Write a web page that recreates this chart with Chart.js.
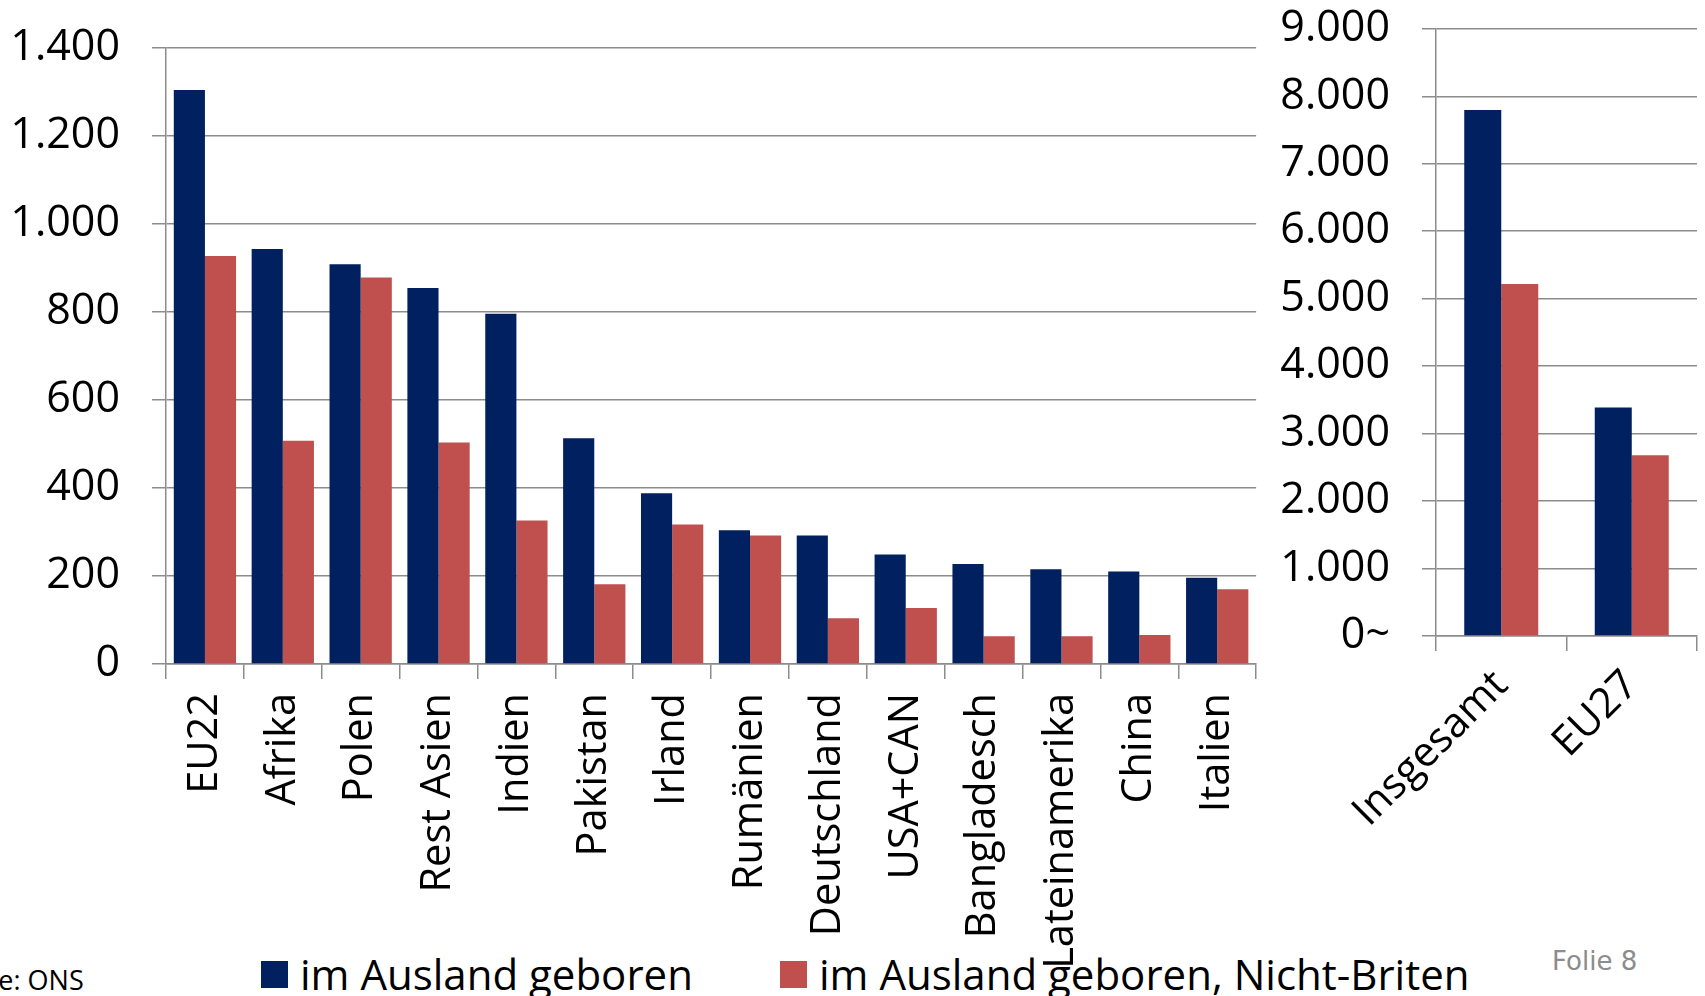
<!DOCTYPE html>
<html>
<head>
<meta charset="utf-8">
<script src="https://cdn.jsdelivr.net/npm/chart.js@4"></script>
<style>
  html, body { margin: 0; padding: 0; background: #fff; }
  body { width: 1705px; height: 996px; position: relative; overflow: hidden; font-family: 'Open Sans', sans-serif; }
  .box { position: absolute; }
  #leftBox { left: 0; top: -10px; width: 1281px; height: 1006px; z-index: 2; }
  #rightBox { left: 1270px; top: -29px; width: 435px; height: 1025px; z-index: 3; }
  .legend { position: absolute; top: 946px; font-size: 42px; line-height: 56px; white-space: nowrap; color: #000; z-index: 1; }
  .swatch { position: absolute; width: 27px; height: 27px; }
  .note { position: absolute; white-space: nowrap; }
</style>
</head>
<body>
<div class="box" id="leftBox"><canvas id="leftChart"></canvas></div>
<div class="box" id="rightBox"><canvas id="rightChart"></canvas></div>

<div class="swatch" style="left:261px; top:961px; background:#002060;"></div>
<div class="legend" style="left:300px;">im Ausland geboren</div>
<div class="swatch" style="left:780px; top:961px; background:#C0504D;"></div>
<div class="legend" style="left:819px;">im Ausland geboren, Nicht-Briten</div>

<div class="note" style="left:-68px; top:961px; font-size:27px;">Quelle: ONS</div>
<div class="note" style="left:1552px; top:946px; font-size:26px; font-family:'DejaVu Sans'; color:#8c8c8c;">Folie 8</div>

<script>
// Herkunftsländer (Tausend)
const categories = ['EU22', 'Afrika', 'Polen', 'Rest Asien', 'Indien', 'Pakistan', 'Irland',
  'Rumänien', 'Deutschland', 'USA+CAN', 'Bangladesch', 'Lateinamerika', 'China', 'Italien'];
const bornAbroad = [1304, 943, 908, 854, 796, 513, 388, 304, 292, 249, 227, 215, 210, 196];
const nonBritish = [927, 507, 878, 503, 326, 181, 317, 292, 104, 127, 63, 63, 66, 170];

// Gesamtwerte
const totalCategories = ['Insgesamt', 'EU27'];
const totalBornAbroad = [7796, 3386];
const totalNonBritish = [5218, 2678];

const seriesNames = ['im Ausland geboren', 'im Ausland geboren, Nicht-Briten'];
const blue = '#002060';
const red = '#C0504D';
const gridColor = '#8c8c8c';

Chart.defaults.font.family = "'Open Sans', sans-serif";
Chart.defaults.color = '#000';

function dots(v) {
    return String(v).replace(/\B(?=(\d{3})+(?!\d))/g, '.');
}

function makeChart(id, labels, a, b, opts) {
    return new Chart(document.getElementById(id), {
        type: 'bar',
        data: {
            labels: labels,
            datasets: [
                { label: seriesNames[0], data: a, backgroundColor: blue },
                { label: seriesNames[1], data: b, backgroundColor: red }
            ]
        },
        options: {
            responsive: true,
            maintainAspectRatio: false,
            animation: false,
            datasets: { bar: { categoryPercentage: opts.catPct, barPercentage: 1 } },
            layout: { padding: { top: 0, right: opts.right, left: 0, bottom: 0 } },
            plugins: { legend: { display: false }, tooltip: { enabled: false } },
            scales: {
                x: {
                    grid: { offset: true, drawOnChartArea: false, drawTicks: true, tickLength: 15, color: gridColor, lineWidth: 1.5 },
                    border: { color: gridColor, width: 1.5 },
                    ticks: { font: { size: 41.5 }, padding: opts.xPad, minRotation: opts.rot, maxRotation: opts.rot, autoSkip: false },
                    afterFit: s => { s.height = opts.xHeight; }
                },
                y: {
                    min: 0,
                    max: opts.max,
                    grid: { color: gridColor, lineWidth: 1.5, tickLength: 14 },
                    border: { color: gridColor, width: 1.5 },
                    ticks: {
                        stepSize: opts.step,
                        font: { size: 43 },
                        padding: 32,
                        callback: v => (v === 0 ? opts.zero : dots(v))
                    },
                    afterFit: s => { s.width = 166; }
                }
            }
        }
    });
}

makeChart('leftChart', categories, bornAbroad, nonBritish,
    { catPct: 0.8, right: 0, xHeight: 332, xPad: 14, rot: 90, max: 1400, step: 200, zero: '0' });
makeChart('rightChart', totalCategories, totalBornAbroad, totalNonBritish,
    { catPct: 0.567, right: 8, xHeight: 360, xPad: 10, rot: 45, max: 9000, step: 1000, zero: '0~' });
</script>
</body>
</html>
